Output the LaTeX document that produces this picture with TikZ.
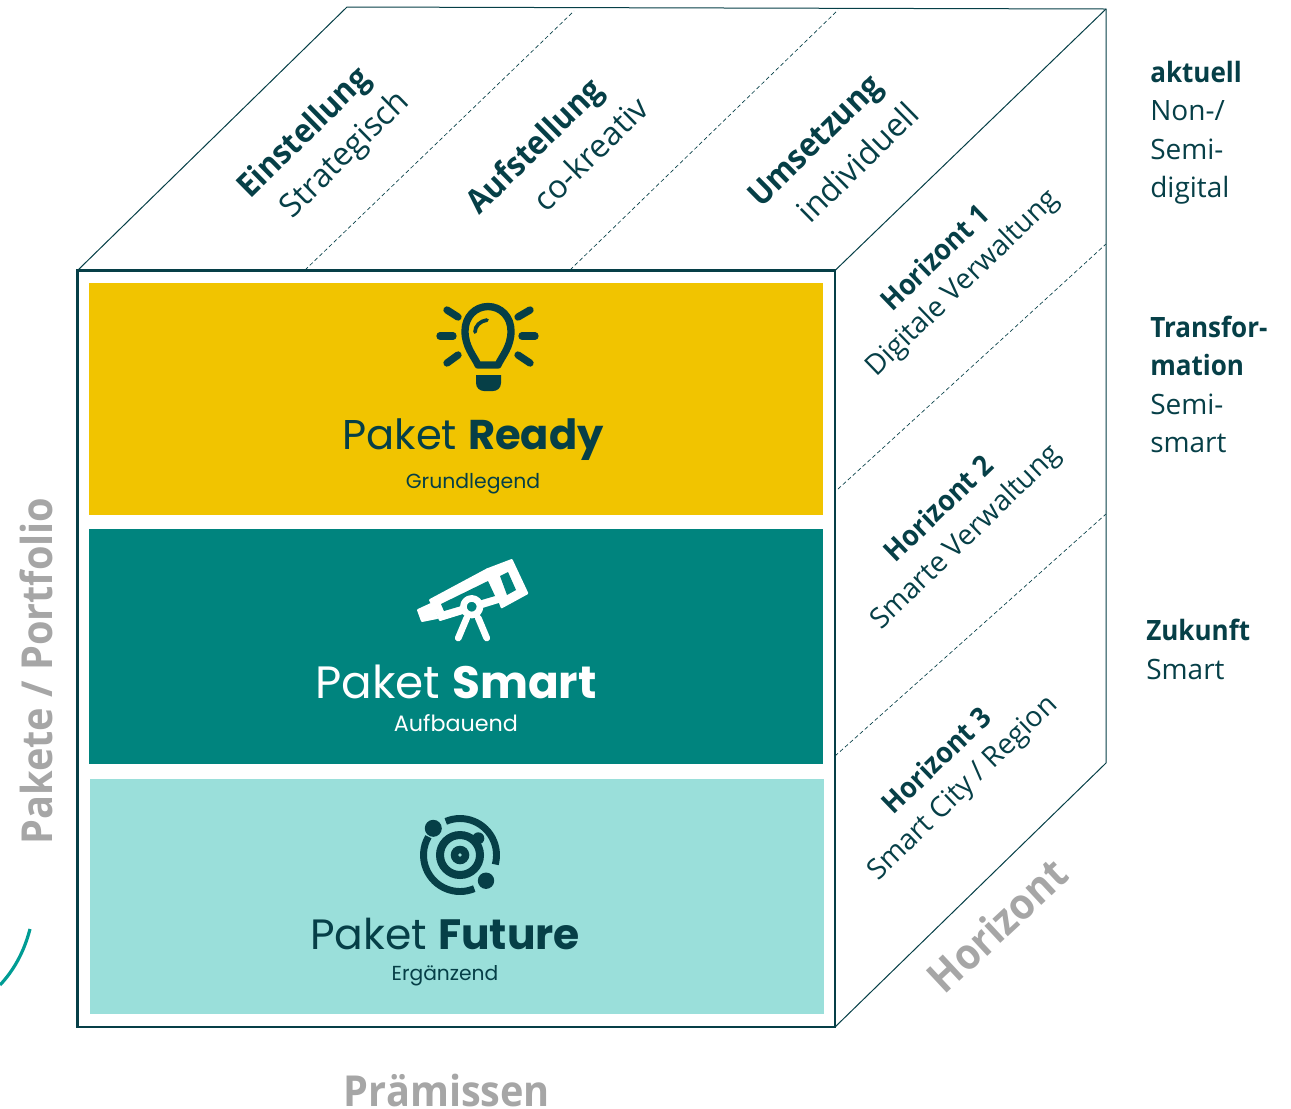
\documentclass[tikz,border=0pt]{standalone}
\usepackage{fontspec}
\setmainfont{Open Sans}[BoldFeatures={FakeStretch=0.93}]
\newfontfamily\pkfont{Poppins}
\definecolor{dk}{HTML}{063F47}
\definecolor{ylw}{HTML}{F1C400}
\definecolor{tl}{HTML}{00847E}
\definecolor{ltl}{HTML}{9ADFDA}
\definecolor{gry}{HTML}{A6A6A6}
\definecolor{arc}{HTML}{009C94}
\newcommand{\fs}[1]{\fontsize{#1}{#1}\selectfont}
\tikzset{
 edge/.style={draw=dk,line width=0.75pt},
 front/.style={draw=dk,line width=1.8pt},
 divider/.style={draw=dk,line width=0.5pt,densely dashed},
 lab/.style={text=dk,inner sep=0pt,anchor=center},
 headA/.style={lab,rotate=44.5,font=\fs{24.7}\bfseries},
 subA/.style={lab,rotate=44.5,font=\fs{24.2}},
 headB/.style={lab,rotate=44,font=\fs{21.5}\bfseries},
 subB/.style={lab,rotate=44,font=\fs{21.2}},
 axis/.style={text=gry,inner sep=0pt,font=\fs{32}\bfseries},
 side/.style={text=dk,inner sep=0pt,anchor=north west,align=left,font=\fs{21}},
 pk/.style={inner sep=0pt,anchor=center},
 pksub/.style={inner sep=0pt,anchor=center},
 icon/.style={line cap=round,line join=round},
}
\begin{document}
\begin{tikzpicture}[x=0.75pt,y=-0.75pt]
\useasboundingbox (0,0) rectangle (1291,1108);
% cube corners
\coordinate (ftl) at (77.5,270.5);
\coordinate (ftr) at (835,270.5);
\coordinate (fbr) at (835,1027);
\coordinate (btl) at (347,7);
\coordinate (btr) at (1106,9);
\coordinate (bbr) at (1106,763);
% bands
\fill[ylw] (89,283) rectangle (823,515);
\fill[tl] (89,529) rectangle (823,764);
\fill[ltl] (90,779) rectangle (824,1014);
\draw[edge] (ftl) -- (btl) -- (btr) -- (bbr) -- (fbr);
\draw[edge] (ftr) -- (btr);
\draw[front] (ftl) rectangle (fbr);
% dashed dividers
\coordinate (t1a) at (305,270); \coordinate (t1b) at (574,11);
\coordinate (t2a) at (570,270); \coordinate (t2b) at (838,10);
\coordinate (s1a) at (838,489); \coordinate (s1b) at (1106,244);
\coordinate (s2a) at (835,756); \coordinate (s2b) at (1106,514);
\draw[divider] (t1a) -- (t1b);
\draw[divider] (t2a) -- (t2b);
\draw[divider] (s1a) -- (s1b);
\draw[divider] (s2a) -- (s2b);
% top labels
\node[headA] (h1) at (305,134) {Einstellung};
\node[subA] (s1) at (345.5,155.5) {Strategisch};
\node[headA] (h2) at (536,148) {Aufstellung};
\node[subA] (s2) at (590,153.5) {co-kreativ};
\node[headA] (h3) at (817,143) {Umsetzung};
\node[subA] (s3) at (857.5,162) {individuell};
% side labels
\node[headB] (z1) at (934.5,257) {Horizont 1};
\node[subB] (y1) at (963,284) {Digitale Verwaltung};
\node[headB] (z2) at (938,508) {Horizont 2};
\node[subB] (y2) at (966.5,538) {Smarte Verwaltung};
\node[headB] (z3) at (936,760) {Horizont 3};
\node[subB] (y3) at (963.5,789) {Smart City / Region};
% axis labels
\node[axis,rotate=90] (ax1) at (36,671) {Pakete / Portfolio};
\node[axis,rotate=43] (ax2) at (997,925) {Horizont};
\node[axis] (ax3) at (447,1090) {Prämissen};
% right column
\node[side] (r1) at (1150,61) {\textbf{aktuell}\\[7.7pt]Non-/\\[7.7pt]Semi-\\[7.7pt]digital};
\node[side] (r2) at (1150,316) {\textbf{Transfor-}\\[7.7pt]\textbf{mation}\\[7.7pt]Semi-\\[7.7pt]smart};
\node[side] (r3) at (1146,619) {\textbf{Zukunft}\\[8pt]Smart};
% package text
\node[pk,text=dk,font=\pkfont\fs{31.2}] (p1) at (473,440) {Paket \textbf{Ready}};
\node[pksub,text=dk,font=\pkfont\fs{15.3}] (q1) at (473,484) {Grundlegend};
\node[pk,text=white,font=\pkfont\fs{34}] (p2) at (456,682) {Paket \textbf{Smart}};
\node[pksub,text=white,font=\pkfont\fs{16.7}] (q2) at (456,723) {Aufbauend};
\node[pk,text=dk,font=\pkfont\fs{31.8}] (p3) at (445,934) {Paket \textbf{Future}};
\node[pksub,text=dk,font=\pkfont\fs{15.2}] (q3) at (445,976) {Ergänzend};
% bulb icon
\begin{scope}[icon,draw=dk,line width=5.5pt]
\draw (478,365) .. controls (474,356) and (465,347) .. (465,331)
 .. controls (465,317) and (475,306.5) .. (488,306.5)
 .. controls (501,306.5) and (511,317) .. (511,331)
 .. controls (511,347) and (502,356) .. (498,365) -- cycle;
\draw[line width=2.8pt] (475,332) .. controls (475,326) and (480,321) .. (487,320);
\draw (447,310) -- (458,317);
\draw (440,336) -- (453,336);
\draw (447,363) -- (458,355);
\draw (530,310) -- (518,317);
\draw (535,336) -- (522,336);
\draw (530,363) -- (518,355);
\fill[dk] (476,375) -- (501,375) -- (501,383) .. controls (501,388) and (497,391) .. (493,391) -- (484,391) .. controls (480,391) and (476,388) .. (476,383) -- cycle;
\end{scope}
% telescope icon
\begin{scope}[icon]
\fill[white,draw=white,line width=1.5pt] (487.3,569.3) -- (511.7,560) -- (527.3,593.3) -- (501.7,607.3) -- cycle;
\fill[white,draw=white,line width=1.5pt] (430,600) -- (487.3,569.3) -- (501.7,601) -- (440,620) -- cycle;
\fill[white,draw=white,line width=1.5pt] (418,610) -- (431,604) -- (437,618) -- (422,621) -- cycle;
\fill[tl] (500,576) -- (508,572) -- (516,590) -- (507,595) -- cycle;
\fill[tl] (441,604) -- (488,581) -- (495,596) -- (444,611) -- cycle;
\draw[white,line width=5pt] (466.7,618) -- (458.3,638);
\draw[white,line width=5pt] (478.3,618) -- (486.7,638);
\draw[white,fill=tl,line width=5pt] (471.7,606.7) circle (8.3);
\end{scope}
% orbit icon
\begin{scope}[shift={(460,855)},x=0.75pt,y=0.75pt]
\draw[dk,line width=5.2pt] (113:36.5) arc (113:-15:36.5);
\draw[dk,line width=5.2pt] (-67:36.5) arc (-67:-210:36.5);
\fill[dk] (-26.7,26.7) circle (8.5);
\fill[dk] (26,-25.7) circle (8.2);
\draw[dk,line width=6pt] (0,0) circle (20);
\fill[dk] (18.3,16.7) circle (6);
\fill[dk] (0,0) circle (9.3);
\fill[ltl] (0,0) circle (1.8);
\end{scope}
% arc at left
\draw[arc,line width=2.4pt] (30,929) .. controls (24,952) and (14,970) .. (0,985);
\end{tikzpicture}
\end{document}
